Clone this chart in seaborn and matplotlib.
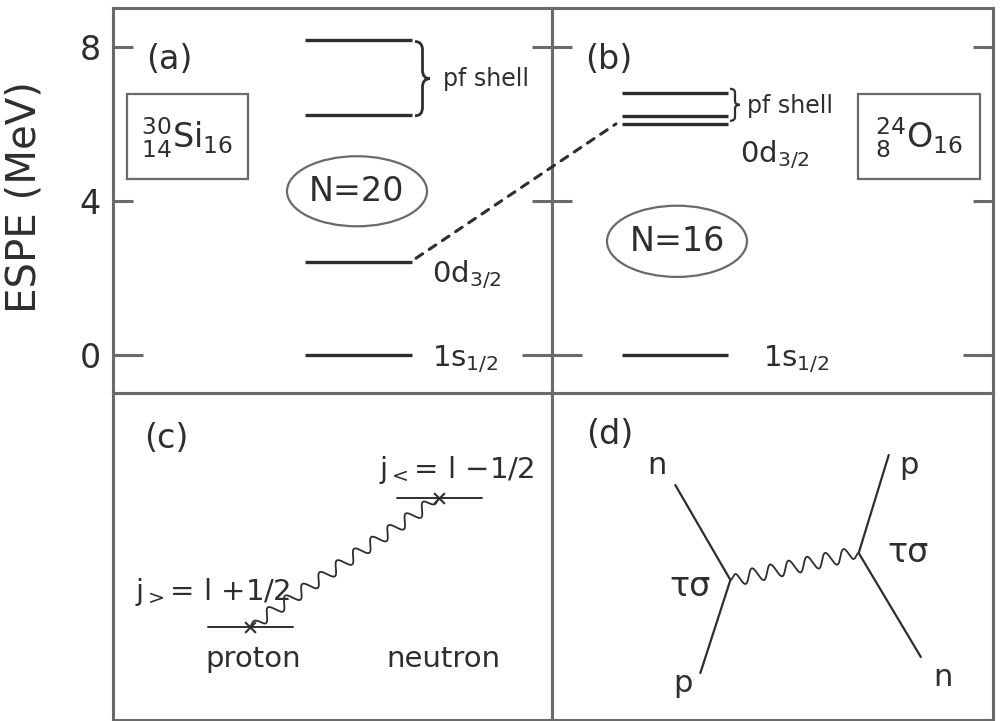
import numpy as np
import pandas as pd
import seaborn as sns
import matplotlib.pyplot as plt
from matplotlib.patches import Ellipse, Rectangle, ConnectionPatch, PathPatch
from matplotlib.path import Path

# (a) 30Si and (b) 24O : neutron ESPE (MeV)
si_espe = [0.0, 2.40, 6.22, 8.18]
o_espe = [0.0, 5.99, 6.20, 6.80]
espe_ticks = [0, 4, 8]

# (c) proton / neutron orbits (panel pixel units)
c_names = ["proton", "neutron"]
c_mark_x = [137, 327]
c_level_y = [93, 222]

# (d) exchange diagram: upper end, vertex, lower end of each nucleon line
d_upper_x = [123, 336]
d_upper_y = [235, 265]
d_upper_lab = ["n", "p"]
d_vertex_x = [178, 306]
d_vertex_y = [140, 167]
d_lower_x = [148, 368]
d_lower_y = [47, 63]
d_lower_lab = ["p", "n"]

INK = "#2e2e2e"
FRAME = "#6a6a6a"

sns.set_theme(style="ticks")
plt.rcParams["font.family"] = ["DejaVu Sans"]
plt.rcParams["mathtext.fontset"] = "dejavusans"

W, H = 1002, 721
fig = plt.figure(figsize=(W / 100, H / 100), dpi=100)


def pix_box(x0, y0, x1, y1):
    return [x0 / W, 1 - y1 / H, (x1 - x0) / W, (y1 - y0) / H]


ax_a = fig.add_axes(pix_box(113, 8, 552, 393))
ax_b = fig.add_axes(pix_box(552, 8, 993, 393))
ax_c = fig.add_axes(pix_box(113, 393, 552, 720))
ax_d = fig.add_axes(pix_box(552, 393, 993, 720))


def draw_levels(ax, espe, x0, x1):
    df = pd.DataFrame({
        "x": [x0, x1] * len(espe),
        "E": np.repeat(espe, 2),
        "orbit": np.repeat(np.arange(len(espe)), 2),
    })
    sns.lineplot(data=df, x="x", y="E", units="orbit", estimator=None,
                 color=INK, lw=2.4, ax=ax, legend=False, sort=False)
    for ln in ax.lines:
        ln.set_solid_capstyle("butt")


def brace(ax, x, y0, y1, w, r, lw=2.0):
    ym = (y0 + y1) / 2
    xm = x + w / 2
    verts = [(x, y1), (xm, y1), (xm, y1 - r), (xm, ym + r), (xm, ym), (x + w, ym),
             (x + w, ym), (xm, ym), (xm, ym - r), (xm, y0 + r), (xm, y0), (x, y0)]
    codes = [Path.MOVETO, Path.CURVE3, Path.CURVE3, Path.LINETO, Path.CURVE3, Path.CURVE3,
             Path.MOVETO, Path.CURVE3, Path.CURVE3, Path.LINETO, Path.CURVE3, Path.CURVE3]
    ax.add_patch(PathPatch(Path(verts, codes), fill=False, ec=INK, lw=lw))


def wiggle(ax, x0, y0, x1, y1, n, amp, lw=1.3):
    t = np.linspace(0, 1, 600)
    dx, dy = x1 - x0, y1 - y0
    L = np.hypot(dx, dy)
    env = np.clip(np.minimum(t, 1 - t) / 0.06, 0, 1)
    s = amp * np.sin(2 * np.pi * n * t) * env
    ax.plot(x0 + dx * t - dy / L * s, y0 + dy * t + dx / L * s, color=INK, lw=lw)


# ---------- (a) and (b) ----------
draw_levels(ax_a, si_espe, 192, 299)
draw_levels(ax_b, o_espe, 70, 176)

for ax, xmax in ((ax_a, 439), (ax_b, 441)):
    ax.set_xlim(0, xmax)
    ax.set_ylim(-1, 9)
    ax.set_xticks([])
    ax.set_yticks(espe_ticks)
    ax.yaxis.remove_overlapping_locs = False
    ax.set_yticks(espe_ticks[:1], minor=True)
    ax.set(xlabel="")
    ax.tick_params(axis="y", which="major", direction="in", left=True, right=True,
                   length=14.4, width=2.2, color=FRAME, labelsize=24,
                   labelcolor=INK, pad=9)
    ax.tick_params(axis="y", which="minor", direction="in", left=True, right=True,
                   length=21.6, width=2.2, color=FRAME)
ax_b.tick_params(labelleft=False)
ax_b.set_ylabel("")
ax_a.set_ylabel("ESPE (MeV)", fontsize=29, color=INK)
ax_a.yaxis.set_label_coords(-0.155, 0.51)

# labels (a)
ax_a.text(56, 7.66, "(a)", fontsize=24, color=INK, ha="center", va="center")
ax_a.add_patch(Rectangle((14, 4.56), 121, 2.21, fill=False, ec=FRAME, lw=1.6))
ax_a.text(74, 5.62, r"${}^{30}_{14}\mathrm{Si}_{16}$", fontsize=24, color=INK,
          ha="center", va="center")
ax_a.add_patch(Ellipse((244, 4.24), 140, 1.82, fill=False, ec=FRAME, lw=1.6))
ax_a.text(244, 4.24, "N=20", fontsize=24, color=INK, ha="center", va="center")
brace(ax_a, 302, 6.20, 8.13, 15, 0.22)
ax_a.text(330, 7.16, "pf shell", fontsize=17, color=INK, ha="left", va="center")
ax_a.text(319, 1.87, r"0d$_{3/2}$", fontsize=21, color=INK, ha="left", va="baseline")
ax_a.text(319, -0.31, r"1s$_{1/2}$", fontsize=21, color=INK, ha="left", va="baseline")

# labels (b)
ax_b.text(57, 7.66, "(b)", fontsize=24, color=INK, ha="center", va="center")
ax_b.add_patch(Rectangle((306, 4.56), 122, 2.21, fill=False, ec=FRAME, lw=1.6))
ax_b.text(367, 5.62, r"${}^{24}_{8}\mathrm{O}_{16}$", fontsize=24, color=INK,
          ha="center", va="center")
ax_b.add_patch(Ellipse((125, 2.94), 140, 1.85, fill=False, ec=FRAME, lw=1.6))
ax_b.text(125, 2.94, "N=16", fontsize=24, color=INK, ha="center", va="center")
brace(ax_b, 178, 6.07, 6.90, 10, 0.1, lw=1.6)
ax_b.text(195, 6.46, "pf shell", fontsize=17, color=INK, ha="left", va="center")
ax_b.text(188, 5.0, r"0d$_{3/2}$", fontsize=21, color=INK, ha="left", va="baseline")
ax_b.text(211, -0.31, r"1s$_{1/2}$", fontsize=21, color=INK, ha="left", va="baseline")

# 0d3/2 shift from (a) to (b)
con = ConnectionPatch(xyA=(303, si_espe[1] + 0.1), coordsA="data", axesA=ax_a,
                      xyB=(64, o_espe[1]), coordsB="data", axesB=ax_b,
                      color=INK, lw=2.2, linestyle=(0, (2.6, 2.6)))
fig.add_artist(con)

# ---------- (c) ----------
c_df = pd.DataFrame({
    "x": [m + d for m in c_mark_x for d in (-42, 43)],
    "y": np.repeat(c_level_y, 2),
    "orbit": np.repeat(c_names, 2),
})
sns.lineplot(data=c_df, x="x", y="y", units="orbit", estimator=None, color=INK,
             lw=1.4, ax=ax_c, legend=False, sort=False)
sns.scatterplot(x=c_mark_x, y=c_level_y, marker="x", s=60, color=INK,
                linewidth=1.5, ax=ax_c, legend=False)
wiggle(ax_c, c_mark_x[0], c_level_y[0], c_mark_x[1], c_level_y[1], 11, 6)
ax_c.text(53, 282, "(c)", fontsize=24, color=INK, ha="center", va="center")
ax_c.text(22, 128, r"$\mathregular{j_{>}}$= l +1/2", fontsize=21, color=INK,
          ha="left", va="center")
ax_c.text(267, 250, r"$\mathregular{j_{<}}$= l $-$1/2", fontsize=21, color=INK,
          ha="left", va="center")
for name, mx in zip(c_names, c_mark_x):
    ax_c.text(mx + 4, 61, name, fontsize=21, color=INK, ha="center", va="center")

# ---------- (d) ----------
d_df = pd.DataFrame({
    "x": [v for i in range(2) for v in (d_upper_x[i], d_vertex_x[i], d_lower_x[i])],
    "y": [v for i in range(2) for v in (d_upper_y[i], d_vertex_y[i], d_lower_y[i])],
    "leg": np.repeat([0, 1], 3),
})
sns.lineplot(data=d_df, x="x", y="y", units="leg", estimator=None, color=INK,
             lw=1.6, ax=ax_d, legend=False, sort=False)
wiggle(ax_d, d_vertex_x[0], d_vertex_y[0], d_vertex_x[1], d_vertex_y[1], 7, 7)
ax_d.text(58, 285, "(d)", fontsize=24, color=INK, ha="center", va="center")

up_off = [(-18, 20), (20, -10)]
low_off = [(-17, -10), (22, -20)]
tau_off = [(-40, -7), (49, 0)]
for i in range(2):
    ax_d.text(d_upper_x[i] + up_off[i][0], d_upper_y[i] + up_off[i][1],
              d_upper_lab[i], fontsize=22, color=INK, ha="center", va="center")
    ax_d.text(d_lower_x[i] + low_off[i][0], d_lower_y[i] + low_off[i][1],
              d_lower_lab[i], fontsize=22, color=INK, ha="center", va="center")
    ax_d.text(d_vertex_x[i] + tau_off[i][0], d_vertex_y[i] + tau_off[i][1],
              "τσ", fontsize=24, color=INK, ha="center", va="center")

for ax in (ax_c, ax_d):
    ax.set_xlim(0, 440)
    ax.set_ylim(0, 327)
    ax.set_xticks([])
    ax.set_yticks([])
    ax.set(xlabel="", ylabel="")

for ax in (ax_a, ax_b, ax_c, ax_d):
    for sp in ax.spines.values():
        sp.set_color(FRAME)
        sp.set_linewidth(2.2)
    ax.set_facecolor("white")

fig.savefig("out.png", dpi=100, facecolor="white")
